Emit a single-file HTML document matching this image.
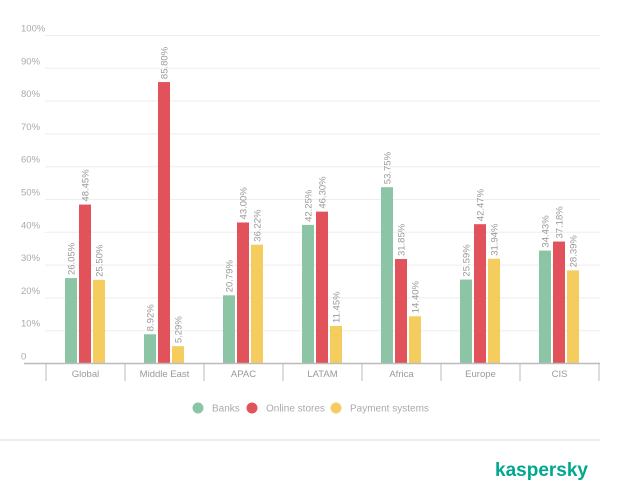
<!DOCTYPE html>
<html><head><meta charset="utf-8"><style>
body{margin:0;background:#fff;}
svg text{font-family:"Liberation Sans",sans-serif;}
</style></head><body>
<svg width="624" height="481" viewBox="0 0 624 481">
<g id="grid"></g><g id="bars"></g><g id="xaxis"></g>
<g>
<circle cx="198" cy="408" r="5.5" fill="#8CC5A5"/>
<text x="212" y="411.5" font-size="10" fill="#aaa">Banks</text>
<circle cx="252" cy="408" r="5.5" fill="#E2525A"/>
<text x="266" y="411.5" font-size="10" fill="#aaa">Online stores</text>
<circle cx="336" cy="408" r="5.5" fill="#F5CC5E"/>
<text x="350" y="411.5" font-size="10" fill="#aaa">Payment systems</text>
</g>
<line x1="0" y1="440" x2="600" y2="440" stroke="#e6e6e6" stroke-width="1.5"/>
<text x="588" y="476" text-anchor="end" font-size="19" font-weight="bold" fill="#00A88E">kaspersky</text>
</svg>
<script>
const categories=["Global","Middle East","APAC","LATAM","Africa","Europe","CIS"];
const banks=[26.05,8.92,20.79,42.25,53.75,25.59,34.43];
const online=[48.45,85.80,43.00,46.30,31.85,42.47,37.18];
const payment=[25.50,5.29,36.22,11.45,14.40,31.94,28.39];
const yTicks=[0,10,20,30,40,50,60,70,80,90,100];
const NS="http://www.w3.org/2000/svg";
const y0=363.5,pxPer=3.28,x0=46,gw=79;
const y=v=>y0-v*pxPer;
const gx=i=>x0+i*gw+gw/2;
function mk(t,a,p){const e=document.createElementNS(NS,t);for(const k in a)e.setAttribute(k,a[k]);p.appendChild(e);return e;}
const grid=document.getElementById('grid');
yTicks.forEach(t=>{
 if(t>0){const l=mk('line',{x1:45,x2:600,y1:y(t),y2:y(t),stroke:'#eeeeee','stroke-width':1},grid);
 
 }
 const tx=mk('text',{x:21,y:y(t)-4,'font-size':9.5,fill:'#aaa'},grid);tx.textContent=t===0?'0':t+'%';
 
 
});
const xa=document.getElementById('xaxis');
const base=mk('line',{x1:24,x2:600,y1:y0,y2:y0,stroke:'#bbb','stroke-width':1.5},xa);


for(let i=0;i<=categories.length;i++){
 const s=mk('line',{x1:x0+i*gw,x2:x0+i*gw,y1:y0,y2:381,stroke:'#bbb','stroke-width':1},xa);
 
 
}
const barsG=document.getElementById('bars');
const series=[[banks,'#8CC5A5','banks'],[online,'#E2525A','online-stores'],[payment,'#F5CC5E','payment-systems']];
categories.forEach((c,i)=>{
 const lab=mk('text',{x:gx(i),y:377,'font-size':9.5,fill:'#999','text-anchor':'middle'},xa);lab.textContent=c;
 
 
 series.forEach(([arr,col,nm],j)=>{
  const bx=gx(i)-20.5+j*14,v=arr[i];
  const r=mk('rect',{x:bx,y:y(v),width:12,height:y0-y(v),fill:col},barsG);
  
  
  const cx=bx+6+3.5,cy=y(v)-3;
  const t=mk('text',{x:cx,y:cy,'font-size':9.5,fill:'#999',transform:`rotate(-90 ${cx} ${cy})`},barsG);
  t.textContent=v.toFixed(2)+'%';
  
  
 });
});
</script>
</body></html>
